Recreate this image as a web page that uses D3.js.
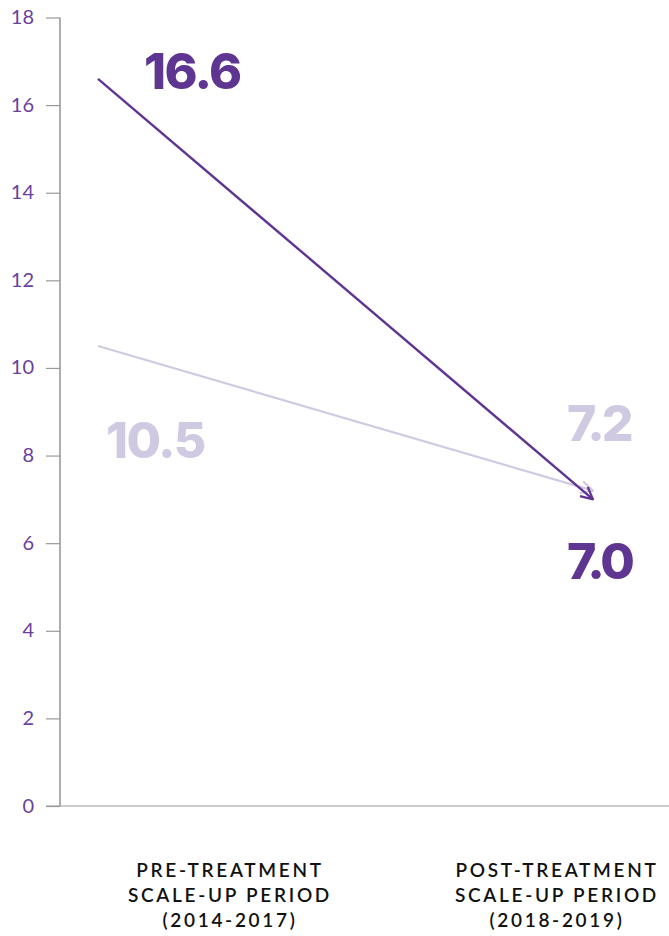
<!DOCTYPE html>
<html>
<head>
<meta charset="utf-8">
<script src="https://cdn.jsdelivr.net/npm/d3@7"></script>
<style>
  html, body { margin: 0; padding: 0; background: #fff; }
  svg { display: block; }
</style>
</head>
<body>
<svg id="chart" width="669" height="936"></svg>
<script>
// Periods on the x axis
const periods = ["pre", "post"];
const periodLabels = [
  ["PRE-TREATMENT", "SCALE-UP PERIOD", "(2014-2017)"],
  ["POST-TREATMENT", "SCALE-UP PERIOD", "(2018-2019)"]
];
// Two series, one value per period
const seriesDark = [16.6, 7.0];
const seriesLight = [10.5, 7.2];
const yTicks = [0, 2, 4, 6, 8, 10, 12, 14, 16, 18];

const darkColor = "#5f3592";
const lightColor = "#d0c9e2";
const tickColor = "#6a3fa0";

const svg = d3.select("#chart");

const y = d3.scaleLinear().domain([0, 18]).range([806, 17.5]);
const xLine = d3.scalePoint().domain(periods).range([98, 593]);
const xLabel = d3.scalePoint().domain(periods).range([230, 557]);

// y axis
const yAxis = svg.append("g")
  .attr("transform", "translate(60,0)")
  .call(d3.axisLeft(y).tickValues(yTicks).tickSize(14).tickPadding(12).tickFormat(d3.format("d")));
yAxis.select(".domain").attr("stroke", "#777").attr("stroke-width", 1.2).attr("d", "M0,17.5V806");
yAxis.selectAll(".tick line").attr("stroke", "#999").attr("stroke-width", 1.2);
yAxis.selectAll(".tick text")
  .attr("fill", tickColor)
  .attr("font-family", "Lato, sans-serif")
  .attr("font-size", 20)
  .attr("dy", "0.3em");

// baseline
svg.append("line")
  .attr("x1", 46).attr("x2", 669)
  .attr("y1", y(0)).attr("y2", y(0))
  .attr("stroke", "#999").attr("stroke-width", 1.2);

// open chevron arrowheads
function addMarker(id, color) {
  svg.append("defs").append("marker")
    .attr("id", id)
    .attr("viewBox", "0 0 14 14")
    .attr("refX", 13).attr("refY", 7)
    .attr("markerWidth", 14).attr("markerHeight", 14)
    .attr("markerUnits", "userSpaceOnUse")
    .attr("orient", "auto")
    .append("path")
    .attr("d", "M1,1L13,7L1,13")
    .attr("fill", "none")
    .attr("stroke", color)
    .attr("stroke-width", 2.2);
}
addMarker("arrowLight", lightColor);
addMarker("arrowDark", darkColor);

const line = d3.line().x((d, i) => xLine(periods[i])).y(d => y(d));

svg.append("path")
  .datum(seriesLight)
  .attr("d", line)
  .attr("fill", "none")
  .attr("stroke", lightColor)
  .attr("stroke-width", 2.2)
  .attr("marker-end", "url(#arrowLight)");

svg.append("path")
  .datum(seriesDark)
  .attr("d", line)
  .attr("fill", "none")
  .attr("stroke", darkColor)
  .attr("stroke-width", 2.4)
  .attr("marker-end", "url(#arrowDark)");

// value labels
const fmt = d3.format(".1f");
const valueFont = "Inter, 'Noto Sans', sans-serif";
function valueLabel(v, x, yy, color, spacing) {
  svg.append("text")
    .attr("x", x).attr("y", yy)
    .attr("fill", color)
    .attr("font-family", valueFont)
    .attr("font-weight", 800)
    .attr("font-size", 50)
    .attr("letter-spacing", spacing)
    .text(fmt(v));
}
valueLabel(seriesDark[0], xLine(periods[0]) + 46, y(seriesDark[0]) + 10, darkColor, -1.6);
valueLabel(seriesLight[0], xLine(periods[0]) + 8, y(seriesLight[0]) + 112, lightColor, -1.6);
valueLabel(seriesLight[1], xLine(periods[1]) - 26, y(seriesLight[1]) - 50, lightColor, -3);
valueLabel(seriesDark[1], xLine(periods[1]) - 26, y(seriesDark[1]) + 80, darkColor, -3);

// period labels
periods.forEach((p, i) => {
  const t = svg.append("text")
    .attr("x", xLabel(p))
    .attr("y", 877)
    .attr("text-anchor", "middle")
    .attr("fill", "#111")
    .attr("font-family", "Lato, sans-serif")
    .attr("font-weight", 600)
    .attr("font-size", 19)
    .attr("letter-spacing", 2.7);
  periodLabels[i].forEach((s, j) => {
    t.append("tspan").attr("x", xLabel(p)).attr("dy", j === 0 ? 0 : 25).text(s);
  });
});
</script>
</body>
</html>
